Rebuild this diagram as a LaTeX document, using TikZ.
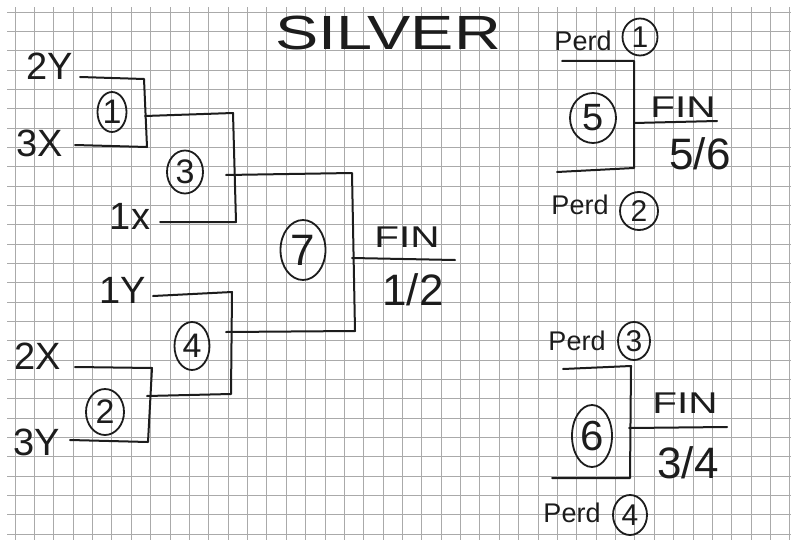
\documentclass[tikz,border=0pt]{standalone}
\usepackage{fontspec}
\setmainfont{Liberation Sans}
\usetikzlibrary{shapes.geometric}
\definecolor{Tinta}{RGB}{28,28,28}
\definecolor{Cuadro}{RGB}{170,170,170}
\tikzset{
  pen/.style={draw=Tinta, line width=1pt, line cap=round, line join=round},
  rejilla/.style={draw=Cuadro, line width=0.4pt},
  partido/.style={ellipse, draw=Tinta, line width=0.9pt, inner sep=0pt,
    text=Tinta, font=\fontsize{17}{17}\selectfont},
  equipo/.style={text=Tinta, font=\fontsize{19}{19}\selectfont, inner sep=0pt},
  perdbox/.style={text=Tinta, font=\fontsize{13.5}{13.5}\selectfont, inner sep=0pt},
  finbox/.style={text=Tinta, font=\fontsize{15}{15}\selectfont, inner sep=0pt},
  puesto/.style={text=Tinta, font=\fontsize{22}{22}\selectfont, inner sep=0pt},
}

\begin{document}
\begin{tikzpicture}[x=0.5pt, y=-0.5pt]
  \useasboundingbox (0,0) rectangle (791,540);
  \fill[white] (0,0) rectangle (791,540);
  % papel cuadriculado
  \begin{scope}
    \clip (7,8) rectangle (791,540);
    \foreach \i in {0,...,40} \draw[rejilla] ({15+19.37*\i},0) -- ({15+19.37*\i},540);
    \foreach \j in {0,...,28} \draw[rejilla] (0,{12+19.33*\j}) -- (791,{12+19.33*\j});
  \end{scope}

  \node[equipo] (titulo) at (388,33) {\fontsize{24}{24}\selectfont\scalebox{1.35}[1]{SILVER}};

  % equipos
  \node[equipo] (e2Y) at (50,66) {2Y};
  \node[equipo] (e3X) at (40,143) {3X};
  \node[equipo] (e1x) at (130,216) {1x};
  \node[equipo] (e1Y) at (123,290) {1Y};
  \node[equipo] (e2X) at (38,356) {2X};
  \node[equipo] (e3Y) at (37,442) {3Y};

  % partidos
  \node[partido, minimum width=14.5pt, minimum height=20pt] (p1) at (112,112) {1};
  \node[partido, minimum width=19pt, minimum height=23pt] (p2) at (105,412) {2};
  \node[partido, minimum width=18pt, minimum height=21.5pt] (p3) at (185,172) {3};
  \node[partido, minimum width=17.5pt, minimum height=24pt] (p4) at (192,346) {4};
  \node[partido, minimum width=23pt, minimum height=25pt, font=\fontsize{19}{19}\selectfont] (p5) at (593,118) {5};
  \node[partido, minimum width=20pt, minimum height=31pt, font=\fontsize{21}{21}\selectfont] (p6) at (592,436) {6};
  \node[partido, minimum width=22.5pt, minimum height=30pt, font=\fontsize{22}{22}\selectfont] (p7) at (303,250) {7};

  % cuadro
  \coordinate (t1) at (80,77);   \coordinate (a1) at (144,79);
  \coordinate (b1) at (147,147); \coordinate (u1) at (75,145);
  \coordinate (o1) at (145,116); \coordinate (a3) at (233,113);
  \coordinate (b3) at (236,222); \coordinate (u3) at (160,222);
  \coordinate (o3) at (226,175); \coordinate (a7) at (352,173);
  \coordinate (b7) at (355,331); \coordinate (u7) at (226,332);
  \coordinate (o7) at (352,258); \coordinate (f7) at (455,260);
  \coordinate (t4) at (153,296); \coordinate (a4) at (232,292);
  \coordinate (b4) at (231,394); \coordinate (u4) at (147,396);
  \coordinate (t2) at (75,367);  \coordinate (a2) at (152,368);
  \coordinate (b2) at (148,442); \coordinate (u2) at (70,440);

  \draw[pen] (t1) -- (a1) -- (b1) -- (u1);
  \draw[pen] (o1) -- (a3) -- (b3) -- (u3);
  \draw[pen] (o3) -- (a7) -- (b7) -- (u7);
  \draw[pen] (t4) -- (a4) -- (b4) -- (u4);
  \draw[pen] (t2) -- (a2) -- (b2) -- (u2);
  \draw[pen] (o7) -- (f7);

  \node[finbox] (fin12) at (407,237) {\scalebox{1.35}[1]{FIN}};
  \node[puesto] (pt12) at (413,290) {1/2};

  % consolacion
  \coordinate (t5) at (562,61);  \coordinate (a5) at (634,61);
  \coordinate (b5) at (634,168); \coordinate (u5) at (557,172);
  \coordinate (o5) at (634,123); \coordinate (f5) at (717,121);
  \coordinate (t6) at (563,369); \coordinate (a6) at (631,366);
  \coordinate (b6) at (630,478); \coordinate (u6) at (552,478);
  \coordinate (o6) at (629,428); \coordinate (f6) at (727,427);

  \draw[pen] (t5) -- (a5) -- (b5) -- (u5);
  \draw[pen] (o5) -- (f5);
  \draw[pen] (t6) -- (a6) -- (b6) -- (u6);
  \draw[pen] (o6) -- (f6);

  \node[perdbox] (perd1) at (583,41) {Perd};
  \node[partido, minimum width=17.5pt, minimum height=18.5pt, font=\fontsize{15}{15}\selectfont] (q1) at (640,37) {1};
  \node[perdbox] (perd2) at (580,205) {Perd};
  \node[partido, minimum width=19pt, minimum height=19pt, font=\fontsize{15}{15}\selectfont] (q2) at (639,211) {2};
  \node[perdbox] (perd3) at (577,341) {Perd};
  \node[partido, minimum width=16pt, minimum height=19pt, font=\fontsize{15}{15}\selectfont] (q3) at (634,341) {3};
  \node[perdbox] (perd4) at (572,513) {Perd};
  \node[partido, minimum width=17pt, minimum height=20pt, font=\fontsize{15}{15}\selectfont] (q4) at (630,515) {4};

  \node[finbox] (fin56) at (683,107) {\scalebox{1.35}[1]{FIN}};
  \node[puesto] (pt56) at (700,154) {5/6};
  \node[finbox] (fin34) at (685,403) {\scalebox{1.35}[1]{FIN}};
  \node[puesto] (pt34) at (688,463) {3/4};
\end{tikzpicture}
\end{document}
